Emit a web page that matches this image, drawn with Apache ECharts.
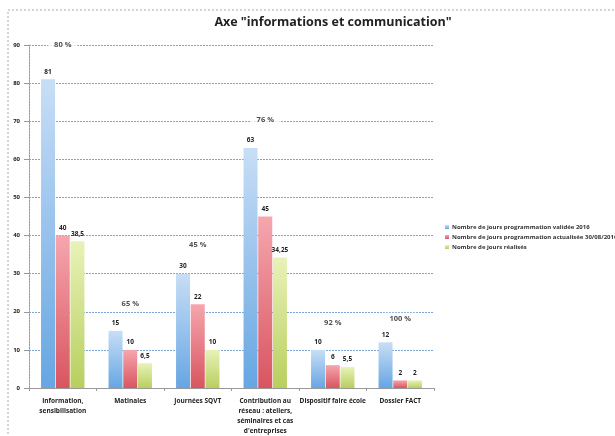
<!DOCTYPE html>
<html><head><meta charset="utf-8">
<script src="https://cdn.jsdelivr.net/npm/echarts@6/dist/echarts.min.js"></script>
<style>html,body{margin:0;padding:0;background:#fff}#c{width:615px;height:436px}</style>
</head><body><div id="c"></div>
<script>
const categories = ["Information,\nsensibilisation", "Matinales", "Journées SQVT", "Contribution au\nréseau : ateliers,\nséminaires et cas\nd'entreprises", "Dispositif faire école", "Dossier FACT"];
const seriesNames = ["Nombre de jours programmation validée 2016", "Nombre de jours programmation actualisée 30/08/2016", "Nombre de jours réalisés"];
const valide2016 = [81, 15, 30, 63, 10, 12];
const actualise = [40, 10, 22, 45, 6, 2];
const realises = [38.5, 6.5, 10, 34.25, 5.5, 2];
const pctLabels = ["80 %", "65 %", "45 %", "76 %", "92 %", "100 %"];
const pctHeights = [90, 22, 37.6, 70.3, 17, 18.2];
const yTicks = [0, 10, 20, 30, 40, 50, 60, 70, 80, 90];

function grad(top, bottom){
  return new echarts.graphic.LinearGradient(0,0,0,1,[{offset:0,color:top},{offset:1,color:bottom}]);
}
const fmt = p => String(p.value).replace('.', ',');
const lblStyle = {show:true, position:'top', distance:4, fontSize:6.5, fontWeight:'bold', color:'#222', fontFamily:'Open Sans', formatter: fmt};
const chart = echarts.init(document.getElementById('c'));
chart.setOption({
  animation:false,
  title:{text:'Axe "informations et communication"', left:328, top:11, textAlign:'center',
    textStyle:{fontSize:12.5, fontWeight:'bold', color:'#222', fontFamily:'Open Sans'}},
  graphic:[{type:'rect', shape:{x:8,y:10,width:640,height:440}, style:{fill:'none', stroke:'#aaa', lineWidth:1, lineDash:[2,2]}, silent:true}],
  legend:{orient:'vertical', left:440, top:219, itemWidth:4, itemHeight:4, itemGap:4,
    textStyle:{fontSize:6, fontWeight:'bold', color:'#333', fontFamily:'Open Sans', padding:[0,0,0,-2]},
    data:seriesNames.map(n=>({name:n, icon:'rect'}))},
  grid:{left:29, right:181, top:45, bottom:39},
  xAxis:{type:'category', data:categories,
    axisLine:{lineStyle:{color:'#999', width:1}},
    axisTick:{show:true, length:3, lineStyle:{color:'#999'}},
    axisLabel:{fontSize:6.5, fontWeight:'bold', color:'#222', fontFamily:'Open Sans', interval:0, margin:8, lineHeight:10}},
  yAxis:{type:'value', min:0, max:90, interval:10,
    axisLine:{show:true, lineStyle:{color:'#999', type:[2,1]}},
    axisTick:{show:true, inside:false, length:5, lineStyle:{color:'#999'}},
    axisLabel:{fontSize:6, fontWeight:'bold', color:'#222', fontFamily:'Open Sans', margin:9, formatter:v=>yTicks.includes(v)?String(v):''},
    splitLine:{show:true, lineStyle:{color:'#7aa6d6', type:[2,1], width:1}}},
  series:[
    {name:seriesNames[0], type:'bar', data:valide2016, barWidth:14, barGap:'5%', barCategoryGap:'36%',
      itemStyle:{color:grad('#c8def6','#66a6e2')}, label:lblStyle},
    {name:seriesNames[1], type:'bar', data:actualise, barWidth:14, barGap:'5%',
      itemStyle:{color:grad('#f6a6ae','#d85560')}, label:lblStyle},
    {name:seriesNames[2], type:'bar', data:realises, barWidth:14, barGap:'5%',
      itemStyle:{color:grad('#e8f2b8','#b8cf5e')}, label:lblStyle},
    {name:'pct', type:'scatter', data:pctHeights, symbolSize:0, silent:true, z:10,
      label:{show:true, position:'inside', formatter:p=>pctLabels[p.dataIndex], fontSize:7.5, fontWeight:'bold', color:'#222', fontFamily:'Open Sans', backgroundColor:'#fff', padding:[2,6]}}
  ]
});
</script></body></html>
